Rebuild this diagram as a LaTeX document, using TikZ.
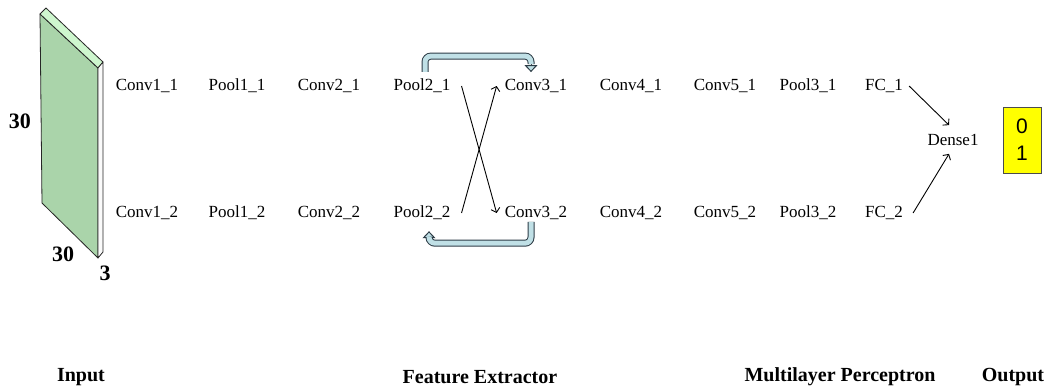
\documentclass[tikz,border=0pt]{standalone}
\usepackage{fontspec}
\setmainfont{Liberation Serif}
\newfontfamily\digitfont{Liberation Sans}
\usetikzlibrary{arrows.meta}
\definecolor{slabfront}{RGB}{170,212,170}
\definecolor{slabtop}{RGB}{206,246,206}
\definecolor{slabside}{RGB}{250,250,250}
\definecolor{flowblue}{RGB}{192,224,230}
\definecolor{flowedge}{RGB}{45,60,70}
\definecolor{outyellow}{RGB}{255,255,0}
\tikzset{
  layer/.style={font=\fontsize{17}{20}\selectfont, inner sep=1pt},
  header/.style={font=\bfseries\fontsize{20}{24}\selectfont, inner sep=0pt},
  dimlabel/.style={font=\bfseries\fontsize{22}{24}\selectfont, inner sep=0pt},
  slabline/.style={draw=black!85, line width=0.8pt, line join=round},
  link/.style={draw=black, line width=0.9pt, -{Straight Barb[length=4pt,width=9pt]}},
  flow/.style={draw=flowedge, line width=1pt, double=flowblue, double distance=5pt, rounded corners=6pt},
  flowtip/.style={draw=flowedge, line width=1pt, -{Triangle[length=7pt,width=13pt,fill=flowblue]}},
  outbox/.style={draw=black!70, line width=0.8pt, fill=outyellow, minimum width=38pt, minimum height=66pt,
                 align=center, inner sep=0pt, font=\digitfont\fontsize{21}{27}\selectfont},
}
\begin{document}
\begin{tikzpicture}[x=1pt,y=-1pt]
\path[use as bounding box] (0,0) rectangle (1055,389);

% input volume 30 x 30 x 3
\draw[slabline, fill=slabfront] (40,14) -- (98,68) -- (98,258) -- (42,203) -- cycle;
\draw[slabline, fill=slabtop]   (40,14) -- (46,8) -- (103,62) -- (98,68) -- cycle;
\draw[slabline, fill=slabside]  (98,68) -- (103,62) -- (103,252) -- (98,258) -- cycle;
\node[dimlabel] (dimh) at (20,121) {30};
\node[dimlabel] (dimw) at (63,254) {30};
\node[dimlabel] (dimd) at (105,273) {3};

% two parallel branches of the feature extractor
\foreach \id/\x/\txt in {c1/147/Conv1, p1/237/Pool1, c2/329/Conv2, p2/422/Pool2, c3/536/Conv3,
                         c4/631/Conv4, c5/725/Conv5, p3/808/Pool3, fc/884/FC} {
  \node[layer] (\id1) at (\x,86)  {\txt\_1};
  \node[layer] (\id2) at (\x,213) {\txt\_2};
}

% cross connections between the branches
\draw[link] ([xshift=10pt]p21.east) -- ([xshift=-7pt]c32.west);
\draw[link] ([xshift=10pt]p22.east) -- ([xshift=-7pt]c31.west);

% skip connections along each branch
\draw[flowtip] ([xshift=-5pt,yshift=16pt]c31.north) -- ([xshift=-5pt,yshift=6pt]c31.north);
\draw[flow] ([xshift=3pt,yshift=6pt]p21.north) |- ([xshift=-5pt,yshift=22pt]c31.north)
            -- ([xshift=-5pt,yshift=14pt]c31.north);
\draw[flowtip] ([xshift=7pt,yshift=-19pt]p22.south) -- ([xshift=7pt,yshift=-10pt]p22.south);
\draw[flow] ([xshift=-5pt,yshift=-1pt]c32.south) |- ([xshift=7pt,yshift=-22pt]p22.south)
            -- ([xshift=7pt,yshift=-17pt]p22.south);

% multilayer perceptron and output
\node[layer] (dense) at (953,140) {Dense1};
\draw[link] ([xshift=5pt]fc1.east) -- ([xshift=-4pt,yshift=8pt]dense.north);
\draw[link] ([xshift=9pt]fc2.east) -- ([xshift=-4pt,yshift=-7pt]dense.south);
\node[outbox] (out) at (1022,140) {0\\1};

% section headings
\node[header] (hin)  at (81,377)   {Input};
\node[header] (hfe)  at (480,377)  {Feature Extractor};
\node[header] (hmlp) at (840,377)  {Multilayer Perceptron};
\node[header] (hout) at (1013,377) {Output};
\end{tikzpicture}
\end{document}
